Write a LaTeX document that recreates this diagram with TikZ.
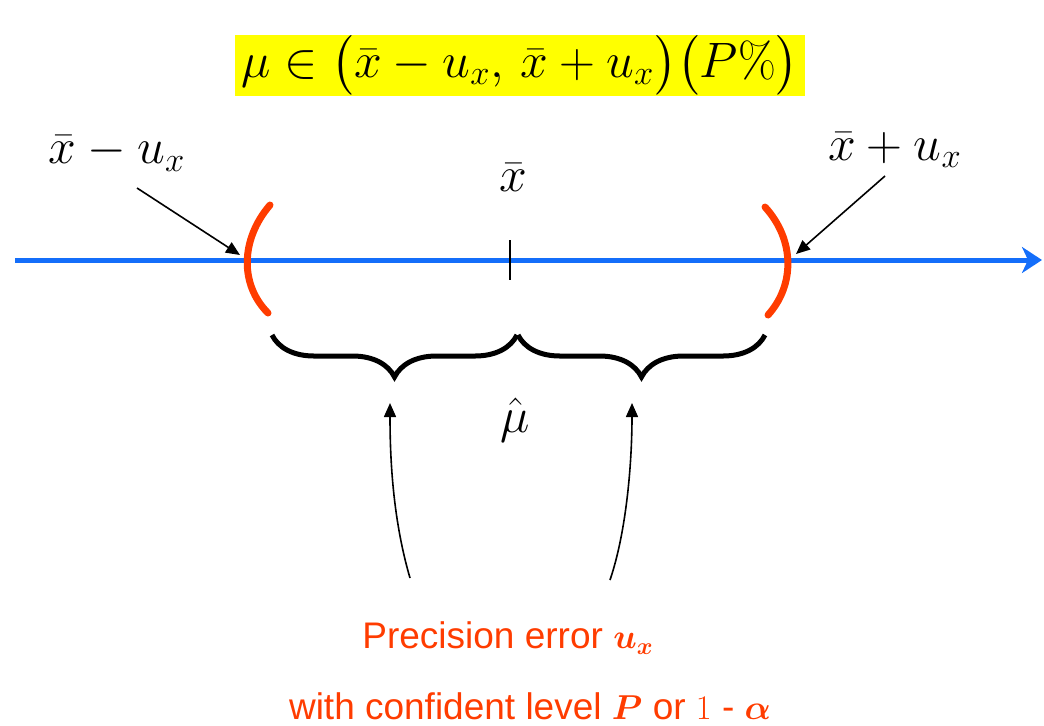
\documentclass[tikz,border=0pt]{standalone}
\usepackage{amsmath}
\usepackage{fontspec}
\newfontfamily\arialfont{Liberation Sans}
\usetikzlibrary{arrows.meta, decorations.pathreplacing}
\definecolor{lineblue}{RGB}{20,110,250}
\definecolor{bracketred}{RGB}{255,60,0}
\definecolor{boxyellow}{RGB}{255,255,0}

\begin{document}
\begin{tikzpicture}[x=0.5pt, y=-0.5pt,
    mathlabel/.style={font=\fontsize{23}{27}\selectfont, inner sep=0pt},
    axis/.style={lineblue, line width=2.5pt, -{Stealth[length=10pt, width=13pt, inset=3pt]}},
    bracket/.style={bracketred, line width=3.5pt, line cap=round},
    curly/.style={decorate, decoration={brace, mirror, amplitude=21pt}, line width=2.5pt},
    pointer/.style={-{Triangle[length=7pt, width=6pt]}, line width=0.8pt},
    note/.style={text=bracketred, font=\arialfont\fontsize{18.5}{21}\selectfont, inner sep=0pt}
]
\useasboundingbox (0,0) rectangle (1044,725);

% Interval formula
\node[mathlabel, font=\fontsize{24.5}{27}\selectfont, fill=boxyellow, minimum width=285pt, minimum height=30.5pt] (formula) at (520,65)
    {$\mu\in\bigl(\bar{x}-u_x,\,\bar{x}+u_x\bigr)\bigl(P\%\bigr)$};

% Number line
\coordinate (axstart) at (15,260);
\coordinate (axend) at (1042,260);
\draw[axis] (axstart) -- (axend);

% Interval ends
\draw[bracket] (270,205) .. controls (240,240) and (240,285) .. (268,313);
\draw[bracket] (765,207) .. controls (795,240) and (795,285) .. (768,315);
\coordinate (lowend) at (240,255);
\coordinate (upend) at (796,254);

% Mean
\coordinate (ticktop) at (510,240);
\coordinate (tickbot) at (510,280);
\draw[line width=0.8pt] (ticktop) -- (tickbot);
\node[mathlabel] (xbar) at (513,178) {$\bar{x}$};

% End labels
\node[mathlabel] (lowlabel) at (117,153) {$\bar{x}-u_x$};
\node[mathlabel] (uplabel) at (895,150) {$\bar{x}+u_x$};
\draw[pointer] (137,188) -- (lowend);
\draw[pointer] (885,176) -- (upend);

% Half widths
\draw[curly] (272,335) -- (517,335);
\draw[curly] (518,335) -- (765,335);
\node[mathlabel, font=\fontsize{26}{28}\selectfont] (muhat) at (515,420) {$\hat{\mu}$};

% Notes
\node[note] (note1) at (508,638) {Precision error $\boldsymbol{u_x}$};
\node[note] (note2) at (530,706) {with confident level $\boldsymbol{P}$ or $1$ - $\boldsymbol{\alpha}$};
\coordinate (leftfoot) at (410,578);
\coordinate (rightfoot) at (610,580);
\draw[pointer] (leftfoot) .. controls (393,520) and (390,460) .. (390,403);
\draw[pointer] (rightfoot) .. controls (627,530) and (632,460) .. (632,403);
\end{tikzpicture}
\end{document}
